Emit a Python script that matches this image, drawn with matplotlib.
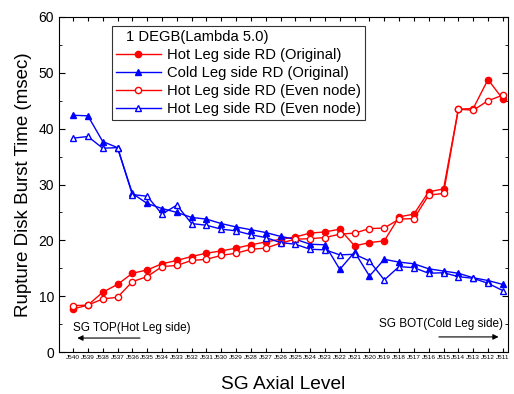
import matplotlib
matplotlib.use("Agg")
import matplotlib.pyplot as plt
from matplotlib.ticker import MultipleLocator

plt.rcParams['font.family'] = ['Liberation Sans', 'DejaVu Sans']

levels = [f"J{n}" for n in range(540, 510, -1)]

hot_orig = [7.7, 8.4, 10.7, 12.1, 14.1, 14.7, 15.8, 16.4, 17.1, 17.7, 18.1, 18.6, 19.2, 19.7,
            20.2, 20.6, 21.3, 21.5, 22.0, 19.0, 19.6, 19.9, 24.2, 24.7, 28.7, 29.2, 43.5, 43.6, 48.8, 45.3]
cold_orig = [42.4, 42.3, 37.7, 36.6, 28.4, 26.6, 25.7, 25.0, 24.1, 23.8, 23.0, 22.4, 21.9, 21.4,
             20.7, 20.2, 19.3, 19.2, 14.8, 17.9, 13.6, 16.6, 16.1, 15.8, 14.9, 14.5, 14.1, 13.3, 12.8, 12.1]
hot_even = [8.3, 8.4, 9.5, 9.8, 12.6, 13.5, 15.3, 15.5, 16.4, 16.6, 17.3, 17.7, 18.4, 18.6,
            19.5, 20.2, 20.3, 20.5, 21.1, 21.3, 22.1, 22.2, 23.8, 23.9, 28.1, 28.4, 43.5, 43.3, 45.0, 46.0]
cold_even = [38.3, 38.6, 36.5, 36.6, 28.2, 27.9, 24.7, 26.3, 23.0, 22.7, 22.0, 21.7, 21.0, 20.5,
             19.6, 19.3, 18.4, 18.3, 17.4, 17.5, 16.3, 12.9, 15.3, 15.1, 14.1, 14.2, 13.5, 13.2, 12.3, 11.0]

fig = plt.figure(figsize=(5.14, 3.94), dpi=100)
ax = fig.add_axes([59/514, 1-352/394, (508-59)/514, (352-17)/394])

x = list(range(len(levels)))
ax.plot(x, hot_orig, color='red', marker='o', ms=4.5, lw=1, label='Hot Leg side RD (Original)')
ax.plot(x, cold_orig, color='blue', marker='^', ms=5, lw=1, label='Cold Leg side RD (Original)')
ax.plot(x, hot_even, color='red', marker='o', ms=4.5, lw=1, mfc='white', label='Hot Leg side RD (Even node)')
ax.plot(x, cold_even, color='blue', marker='^', ms=5, lw=1, mfc='white', label='Hot Leg side RD (Even node)')

ax.set_xlim(-0.95, 29.35)
ax.set_ylim(0, 60)
ax.set_xticks(x)
ax.set_xticklabels(levels, fontsize=4.6)
ax.yaxis.set_major_locator(MultipleLocator(10))
ax.yaxis.set_minor_locator(MultipleLocator(5))
ax.tick_params(axis='both', which='both', direction='in', top=True, right=True)
ax.tick_params(axis='y', which='major', length=4, labelsize=10)
ax.tick_params(axis='y', which='minor', length=2.5)
ax.tick_params(axis='x', which='major', length=3, pad=2)

ax.set_xlabel('SG Axial Level', fontsize=13.8, labelpad=12)
ax.set_ylabel('Rupture Disk Burst Time (msec)', fontsize=13.5, labelpad=5)

leg = ax.legend(title='1 DEGB(Lambda 5.0)', loc='upper left', bbox_to_anchor=(0.118, 0.973),
                fontsize=10.6, title_fontsize=10.6, frameon=True, fancybox=False,
                edgecolor='black', handlelength=3.0, borderpad=0.3, labelspacing=0.26,
                handletextpad=0.45, borderaxespad=0)
leg._legend_box.align = 'left'
leg.get_frame().set_linewidth(0.8)
leg.get_title().set_position((10, 0))

ax.text(0.0, 4.3, 'SG TOP(Hot Leg side)', fontsize=8.5, ha='left', va='center')
ax.annotate('', xy=(0.1, 2.5), xytext=(4.7, 2.5),
            arrowprops=dict(arrowstyle='-|>', color='black', lw=0.8, mutation_scale=8))
ax.text(29.0, 5.0, 'SG BOT(Cold Leg side)', fontsize=8.5, ha='right', va='center')
ax.annotate('', xy=(28.9, 2.7), xytext=(24.5, 2.7),
            arrowprops=dict(arrowstyle='-|>', color='black', lw=0.8, mutation_scale=8))

fig.savefig('out.png', dpi=100)
